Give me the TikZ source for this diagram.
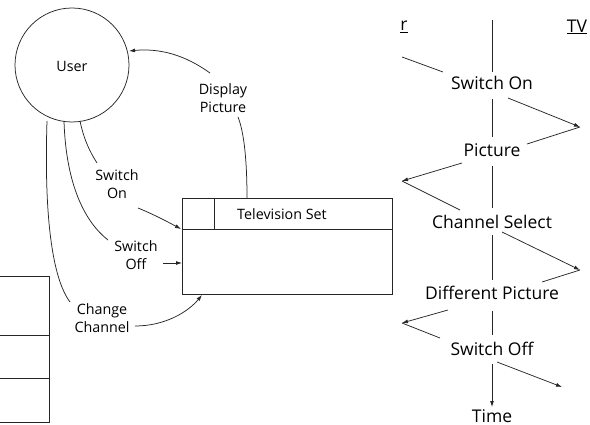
\documentclass[tikz,border=0pt]{standalone}
\usepackage{fontspec}
\setmainfont{Open Sans}
\usetikzlibrary{arrows.meta}
\begin{document}
\begin{tikzpicture}[x=1pt,y=-1pt,
  ln/.style={line width=0.75pt,draw=black!85},
  arr/.style={ln,-{Latex[length=6pt,width=4pt]}},
  small/.style={font=\fontsize{14.3}{17.5}\selectfont,align=center,inner sep=0pt,text=black},
  big/.style={font=\fontsize{17.5}{20}\selectfont,inner sep=0pt,text=black}]
\useasboundingbox (0,0) rectangle (590,425);
% User
\node[ln,circle,minimum size=114pt,inner sep=0pt] (user) at (72,65) {};
\node[small] (usertxt) at (72,66) {User};
% TV box
\draw[ln] (182,198) rectangle (392,294);
\draw[ln] (182,229) -- (392,229);
\draw[ln] (214,198) -- (214,229);
\node[small] (tvtxt) at (282,214) {Television Set};
% labels
\node[small] (dp) at (223,98) {Display\\Picture};
\node[small] (son) at (117,184) {Switch\\On};
\node[small] (soff) at (136,255) {Switch\\Off};
\node[small] (cc) at (102,318) {Change\\Channel};
% coordinates
\coordinate (a1) at (247,198); \coordinate (a2) at (238,117);
\coordinate (a3) at (210,73);  \coordinate (a4) at (129,51);
\coordinate (b1) at (80,121);  \coordinate (b2) at (97,163);
\coordinate (b3) at (138,208); \coordinate (b4) at (181,229);
\coordinate (c1) at (64,121);  \coordinate (c2) at (108,240);
\coordinate (c3) at (163,263); \coordinate (c4) at (182,263);
\coordinate (d1) at (47,121);  \coordinate (d2) at (70,302);
\coordinate (d3) at (135,326); \coordinate (d4) at (202,295);
\draw[ln] (a1) .. controls (247,160) and (244,132) .. (a2);
\draw[arr] (a3) .. controls (185,55) and (160,48) .. (a4);
\draw[ln] (b1) .. controls (84,140) and (90,152) .. (b2);
\draw[arr] (b3) .. controls (155,215) and (168,222) .. (b4);
\draw[ln] (c1) .. controls (66,185) and (85,222) .. (c2);
\draw[arr] (c3) -- (c4);
\draw[ln] (d1) .. controls (44,215) and (52,278) .. (d2);
\draw[arr] (d3) .. controls (165,326) and (188,312) .. (d4);
% left table fragment
\draw[ln] (-2,276) -- (49,276) -- (49,422) -- (-2,422);
\draw[ln] (-2,335) -- (49,335);
\draw[ln] (-2,378) -- (49,378);
% sequence
\node[big] (r) at (404,27) {\underline{r}};
\node[big] (tv) at (577,27) {\underline{TV}};
\node[big] (m1) at (492,83) {Switch On};
\node[big] (m2) at (492,150) {Picture};
\node[big] (m3) at (492,222) {Channel Select};
\node[big] (m4) at (492,293) {Different Picture};
\node[big] (m5) at (492,349) {Switch Off};
\node[big] (time) at (492,416) {Time};
\coordinate (l0) at (492,20);
\draw[ln] (l0) -- (492,72);
\draw[ln] (492,99) -- (492,137);
\draw[ln] (492,166) -- (492,208);
\draw[ln] (492,235) -- (492,280);
\draw[ln] (492,311) -- (492,335);
\draw[arr] (492,364) -- (492,407);
\coordinate (L1) at (402,57); \coordinate (R1) at (580,127);
\coordinate (L2) at (402,181); \coordinate (R2) at (580,270);
\coordinate (L3) at (402,323); \coordinate (R3) at (562,387);
\draw[ln] (L1) -- (443,72);
\draw[arr] (508,98) -- (R1);
\draw[ln] (R1) -- (527,144);
\draw[arr] (462,163) -- (L2);
\draw[ln] (L2) -- (460,210);
\draw[arr] (502,232) -- (R2);
\draw[ln] (R2) -- (542,282);
\draw[arr] (448,310) -- (L3);
\draw[ln] (L3) -- (440,338);
\draw[arr] (497,362) -- (R3);
\end{tikzpicture}
\end{document}
